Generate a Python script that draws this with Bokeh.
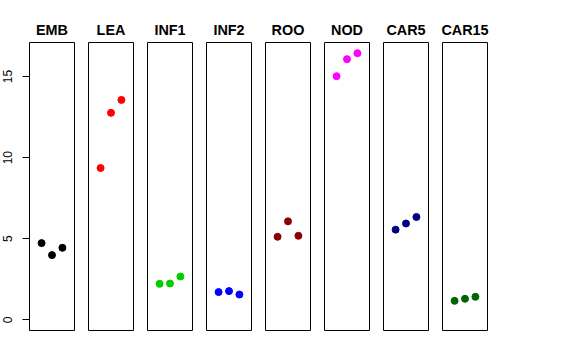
from bokeh.plotting import figure
from bokeh.layouts import row
from bokeh.models import Range1d, FixedTicker
from bokeh.embed import file_html
from bokeh.resources import INLINE

tissues = ["EMB", "LEA", "INF1", "INF2", "ROO", "NOD", "CAR5", "CAR15"]
colors = ["#000000", "#FF0000", "#00CD00", "#0000FF", "#8B0000", "#FF00FF", "#000080", "#006400"]
replicate = [1, 2, 3]
values = {
    "EMB": [4.73, 3.99, 4.44],
    "LEA": [9.36, 12.76, 13.56],
    "INF1": [2.22, 2.24, 2.67],
    "INF2": [1.71, 1.77, 1.56],
    "ROO": [5.12, 6.07, 5.18],
    "NOD": [15.02, 16.07, 16.44],
    "CAR5": [5.56, 5.94, 6.34],
    "CAR15": [1.17, 1.30, 1.42],
}
y_ticks = [0, 5, 10, 15]

ymax = max(max(v) for v in values.values())
ymin = 0.0
pad = 0.04 * (ymax - ymin)
xlo, xhi = 0, 4
xpad = 0.04 * (xhi - xlo)

figs = []
for i, (name, col) in enumerate(zip(tissues, colors)):
    first = i == 0
    p = figure(
        frame_width=45, frame_height=288,
        x_range=Range1d(xlo - xpad, xhi + xpad),
        y_range=Range1d(ymin - pad, ymax + pad),
        output_backend="svg", toolbar_location=None,
        title=name,
        min_border_left=(21 if first else 7), min_border_right=7,
        min_border_top=42, min_border_bottom=10,
        x_axis_location=None,
        y_axis_location=("left" if first else None),
    )
    p.title.align = "center"
    p.title.text_font = "Liberation Sans"
    p.title.text_font_style = "bold"
    p.title.text_font_size = "14.4px"
    p.title.text_color = "#000000"
    p.xgrid.visible = False
    p.ygrid.visible = False
    p.outline_line_color = "#000000"
    p.outline_line_width = 1
    p.background_fill_color = None
    p.border_fill_color = None
    if first:
        ax = p.yaxis[0]
        ax.ticker = FixedTicker(ticks=y_ticks)
        ax.minor_tick_line_color = None
        ax.major_tick_out = 7
        ax.major_tick_in = 0
        ax.major_label_orientation = "vertical"
        ax.major_label_text_font = "Liberation Sans"
        ax.major_label_text_font_size = "12px"
        ax.major_label_text_color = "#000000"
        ax.major_label_standoff = 10
        ax.axis_line_color = None
        ax.major_tick_line_color = "#000000"
    p.scatter(replicate, values[name], size=7, color=col, line_color=col)
    figs.append(p)

layout = row(*figs, spacing=0)
open("out.html", "w").write(file_html(layout, INLINE))
